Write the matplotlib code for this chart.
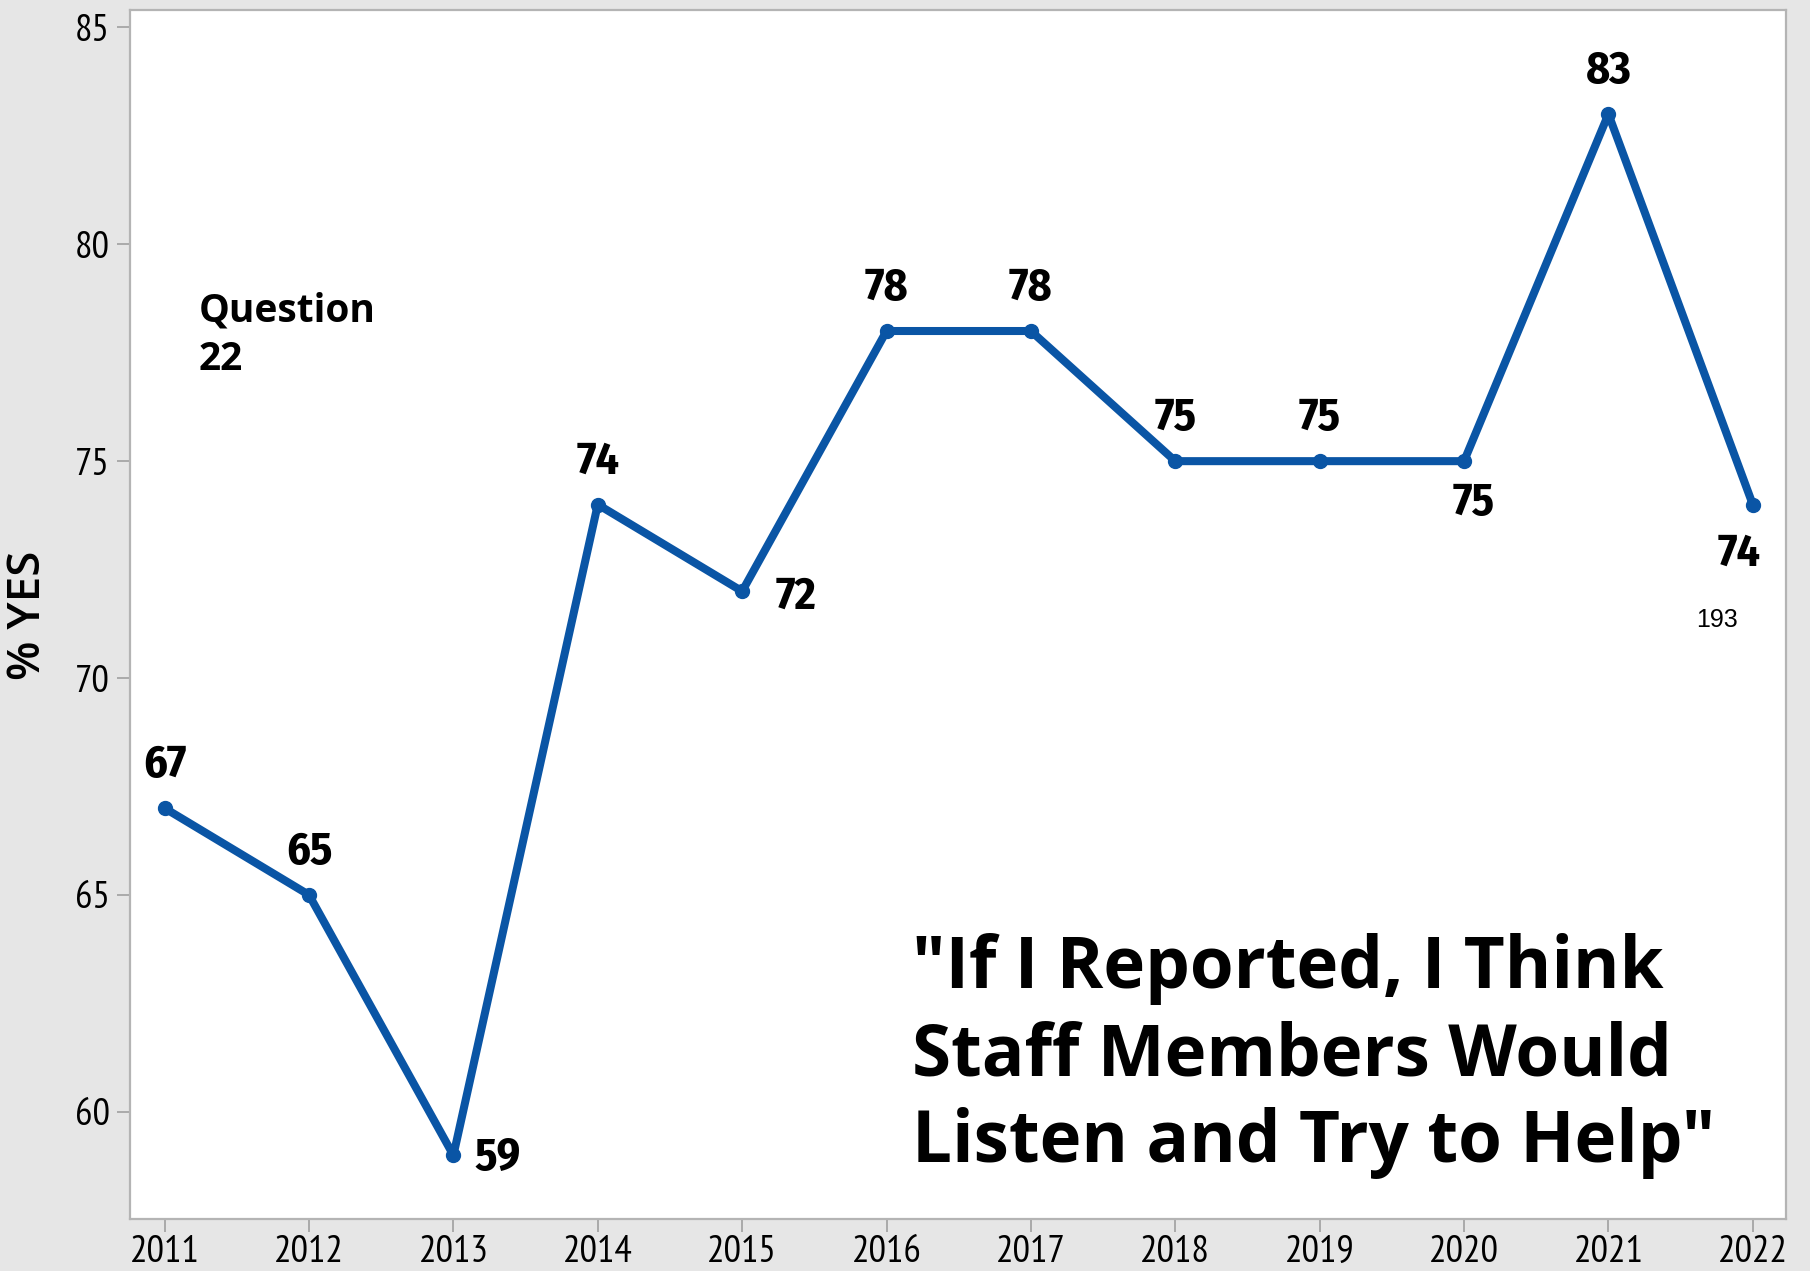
import matplotlib
matplotlib.use("Agg")
import matplotlib.pyplot as plt

# Survey results: percent answering YES, by year
years = [2011, 2012, 2013, 2014, 2015, 2016, 2017, 2018, 2019, 2020, 2021, 2022]
pct_yes = [67, 65, 59, 74, 72, 78, 78, 75, 75, 75, 83, 74]
y_ticks = [60, 65, 70, 75, 80, 85]

# Where each value label sits relative to its point (offset in points)
label_offsets = [(0, 31), (0, 31), (32, -2), (0, 31), (39, -4), (0, 31),
                 (0, 31), (0, 31), (0, 31), (7, -30), (0, 31), (-10, -35.5)]

question_text = "Question\n22"
title_text = "\"If I Reported, I Think\nStaff Members Would\nListen and Try to Help\""
count_text = "193"

LINE_BLUE = "#0a55a5"
BG_GRAY = "#e6e6e6"
SPINE_GRAY = "#b4b4b4"
narrow = ["PT Sans Narrow", "Fira Sans Condensed", "Open Sans", "DejaVu Sans"]
label_font = ["Fira Sans Condensed", "PT Sans Narrow", "Open Sans", "DejaVu Sans"]
bold_sans = ["Open Sans", "DejaVu Sans"]

fig = plt.figure(figsize=(18.10, 12.71), dpi=100, facecolor=BG_GRAY)
ax = fig.add_axes([130 / 1810, 52 / 1271, 1656 / 1810, 1209 / 1271])
ax.set_facecolor("white")

ax.plot(years, pct_yes, color=LINE_BLUE, lw=5.8, marker="o", ms=10,
        solid_joinstyle="round", solid_capstyle="round", zorder=3)

for x, y, (dx, dy) in zip(years, pct_yes, label_offsets):
    ax.annotate(str(y), (x, y), xytext=(dx, dy), textcoords="offset points",
                ha="center", va="center", fontsize=33, fontweight="bold",
                family=label_font, color="black")

ax.set_xlim(2010.76, 2022.23)
ax.set_ylim(57.53, 85.4)
ax.set_xticks(years)
ax.set_xticklabels([str(y) for y in years])
ax.set_yticks(y_ticks)
ax.set_yticklabels([str(t) for t in y_ticks])

for lab in ax.get_xticklabels() + ax.get_yticklabels():
    lab.set_family(narrow)
    lab.set_fontsize(28)
ax.tick_params(axis="both", direction="out", length=9.5, width=1.2,
               color="#a0a0a0", labelcolor="black")
ax.tick_params(axis="y", pad=5)
ax.tick_params(axis="x", pad=2)

for s in ax.spines.values():
    s.set_color(SPINE_GRAY)
    s.set_linewidth(1.6)

fig.text(29 / 1810, 1 - 615 / 1271, "% YES", rotation=90, ha="center",
         va="center", fontsize=33, fontweight="semibold", family=bold_sans)

ax.text((199 - 130) / 1656, 1 - (335 - 10) / 1209,
        question_text, transform=ax.transAxes, ha="left", va="center",
        fontsize=28, fontweight="bold", family=bold_sans, linespacing=1.32)

ax.text((912 - 130) / 1656, 1 - (1056 - 10) / 1209, title_text,
        transform=ax.transAxes, ha="left", va="center", fontsize=51,
        fontweight="bold", family=bold_sans, linespacing=1.27)

ax.text(2021.755, 71.33, count_text, ha="center", va="center", fontsize=18,
        family=["Liberation Sans", "DejaVu Sans"], color="black")

fig.savefig("out.png", dpi=100, facecolor=BG_GRAY)
